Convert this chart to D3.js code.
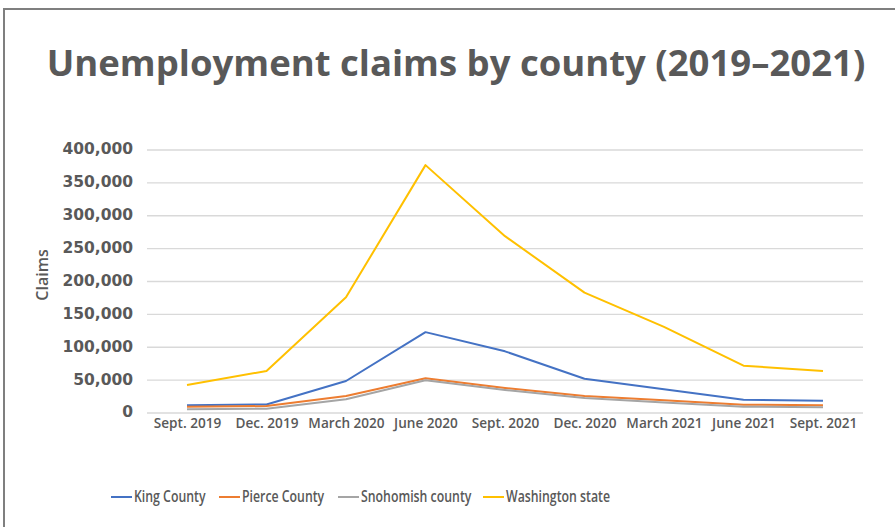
<!DOCTYPE html>
<html>
<head>
<meta charset="utf-8">
<script src="https://cdn.jsdelivr.net/npm/d3@7"></script>
<style>
  body { margin: 0; background: #fff; }
  svg { display: block; }
</style>
</head>
<body>
<svg></svg>
<script>
let months = ["Sept. 2019", "Dec. 2019", "March 2020", "June 2020", "Sept. 2020", "Dec. 2020", "March 2021", "June 2021", "Sept. 2021"]

let kingCounty = [11700, 13000, 48700, 123000, 93800, 52000, 36000, 20000, 18700]
let pierceCounty = [9600, 10600, 26000, 52700, 38000, 25800, 19500, 12700, 11600]
let snohomishCounty = [5600, 6600, 21000, 49700, 35000, 22800, 16000, 9600, 8700]
let washingtonState = [42600, 63900, 176000, 377000, 269000, 183000, 131000, 72000, 64000]

let yTicks = [0, 50000, 100000, 150000, 200000, 250000, 300000, 350000, 400000]

let seriesNames = ["King County", "Pierce County", "Snohomish county", "Washington state"]
let seriesColors = ["#4472c4", "#ed7d31", "#a5a5a5", "#ffc000"]
let seriesValues = [kingCounty, pierceCounty, snohomishCounty, washingtonState]

let width = 895
let height = 527
let textColor = "#595959"

let svg = d3.select("svg")
  .attr("width", width)
  .attr("height", height)

// frame round the chart
svg.append("rect")
   .attr("x", 4)
   .attr("y", 9)
   .attr("width", 960)
   .attr("height", 600)
   .attr("fill", "none")
   .attr("stroke", "#7f7f7f")
   .attr("stroke-width", 2)

svg.append("text")
   .text("Unemployment claims by county (2019–2021)")
   .attr("x", 456)
   .attr("y", 76)
   .attr("text-anchor", "middle")
   .style("font-family", "'Open Sans', sans-serif")
   .style("font-weight", 700)
   .style("font-size", "36.5px")
   .style("fill", textColor)

let xScale = d3.scalePoint()
  .domain(months)
  .range([187, 823])

let yScale = d3.scaleLinear()
  .domain([0, 400000])
  .range([413, 150])

// gridlines
svg.append("g")
   .selectAll("line")
   .data(yTicks)
   .enter()
   .append("line")
   .attr("x1", 147)
   .attr("x2", 863)
   .attr("y1", (d) => yScale(d))
   .attr("y2", (d) => yScale(d))
   .attr("stroke", "#d9d9d9")
   .attr("stroke-width", 1.3)

let yAxis = d3.axisLeft(yScale)
  .tickValues(yTicks)
  .tickFormat(d3.format(","))
  .tickSize(0)
  .tickPadding(0)

let yAxisG = svg.append("g")
   .attr("transform", "translate(133,-1)")
   .call(yAxis)
yAxisG.select(".domain").remove()
yAxisG.selectAll("text")
   .style("font-family", "'DejaVu Sans', sans-serif")
   .style("font-weight", 700)
   .style("font-size", "15.5px")
   .style("fill", textColor)

let xAxis = d3.axisBottom(xScale)
  .tickSize(0)
  .tickPadding(0)

let xAxisG = svg.append("g")
   .attr("transform", "translate(0,418)")
   .call(xAxis)
xAxisG.select(".domain").remove()
xAxisG.selectAll("text")
   .attr("dy", "0.71em")
   .style("font-family", "'Open Sans', sans-serif")
   .style("font-weight", 600)
   .style("font-size", "13.6px")
   .style("fill", textColor)

svg.append("text")
   .text("Claims")
   .attr("transform", "translate(48,275) rotate(-90)")
   .attr("text-anchor", "middle")
   .style("font-family", "'Open Sans', sans-serif")
   .style("font-weight", 600)
   .style("font-size", "16px")
   .style("fill", textColor)

let line = d3.line()
  .x((d, i) => xScale(months[i]))
  .y((d) => yScale(d))

svg.append("g")
   .selectAll("path")
   .data(seriesValues)
   .enter()
   .append("path")
   .attr("d", (d) => line(d))
   .attr("fill", "none")
   .attr("stroke", (d, i) => seriesColors[i])
   .attr("stroke-width", 2)
   .attr("stroke-linejoin", "round")

// legend (text squeezed sideways, the original font is narrow)
let legendX = [111, 219, 338, 483]
let legend = svg.append("g")
legend.selectAll("line")
   .data(seriesNames)
   .enter()
   .append("line")
   .attr("x1", (d, i) => legendX[i])
   .attr("x2", (d, i) => legendX[i] + 21)
   .attr("y1", 497)
   .attr("y2", 497)
   .attr("stroke", (d, i) => seriesColors[i])
   .attr("stroke-width", 2)
legend.selectAll("text")
   .data(seriesNames)
   .enter()
   .append("text")
   .text((d) => d)
   .attr("transform", (d, i) => "translate(" + (legendX[i] + 23) + ",502) scale(0.77,1)")
   .style("font-family", "'Open Sans', sans-serif")
   .style("font-weight", 600)
   .style("font-size", "16px")
   .style("fill", textColor)
</script>
</body>
</html>
